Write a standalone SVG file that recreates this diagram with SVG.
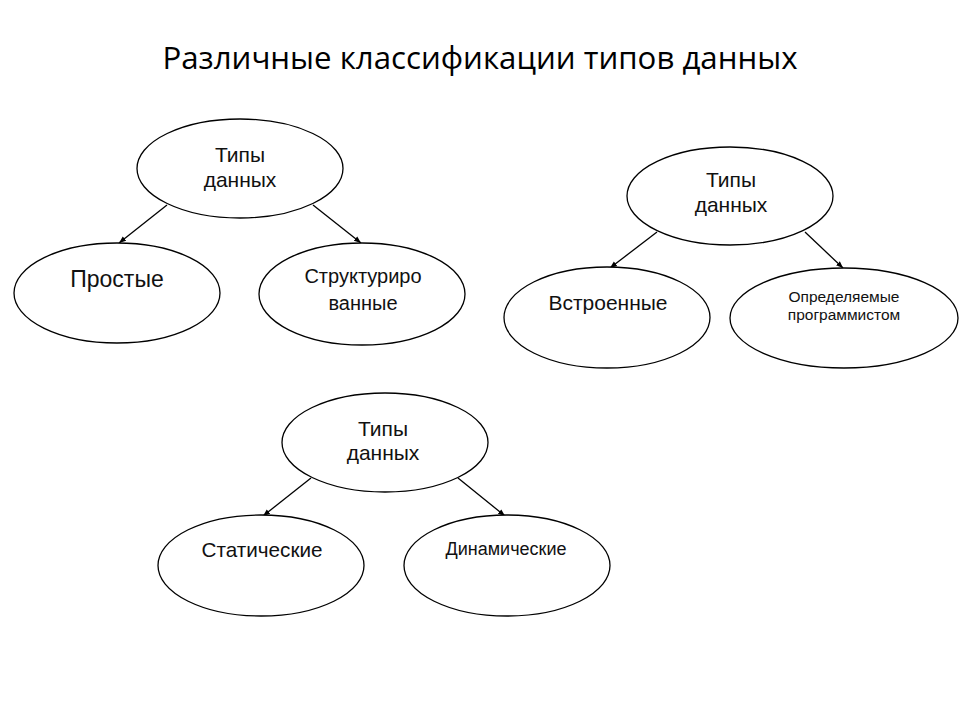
<svg xmlns="http://www.w3.org/2000/svg" width="960" height="720" viewBox="0 0 960 720">
<defs>
<style>
.node ellipse{fill:#fff;stroke:#000;stroke-width:1.3}
.t{font-family:"Liberation Sans",Arial,sans-serif;fill:#111;text-anchor:middle}
.title{font-family:"Open Sans","Liberation Sans",sans-serif;font-size:31px;fill:#000;text-anchor:middle}
.conn line{stroke:#000;stroke-width:1.3;marker-end:url(#ah)}
</style>
<marker id="ah" viewBox="0 0 10 10" refX="10" refY="5" markerWidth="7" markerHeight="7" orient="auto" markerUnits="userSpaceOnUse">
<path d="M0,1 L10,5 L0,9 Z" fill="#000"/>
</marker>
</defs>
<rect width="960" height="720" fill="#fff"/>
<text class="title" x="480" y="69" textLength="635" lengthAdjust="spacingAndGlyphs">Различные классификации типов данных</text>

<g id="connectors" class="conn">
<line x1="167" y1="205" x2="119" y2="243"/>
<line x1="313" y1="205" x2="361" y2="243"/>
<line x1="657" y1="232" x2="610" y2="268"/>
<line x1="805" y1="232" x2="843" y2="268"/>
<line x1="311" y1="478" x2="263" y2="516"/>
<line x1="458" y1="478" x2="505" y2="516"/>
</g>

<g id="n1-types" class="node">
<ellipse cx="240" cy="168.5" rx="103" ry="49.5"/>
<text class="t" x="240" y="162" font-size="21">Типы</text>
<text class="t" x="240" y="187" font-size="21">данных</text>
</g>
<g id="n1-simple" class="node">
<ellipse cx="117" cy="293" rx="103" ry="50"/>
<text class="t" x="117" y="287" font-size="23">Простые</text>
</g>
<g id="n1-struct" class="node">
<ellipse cx="362" cy="294" rx="103" ry="51"/>
<text class="t" x="363" y="283" font-size="20">Структуриро</text>
<text class="t" x="363" y="310" font-size="20">ванные</text>
</g>

<g id="n2-types" class="node">
<ellipse cx="730" cy="196" rx="103" ry="49"/>
<text class="t" x="731" y="187" font-size="21">Типы</text>
<text class="t" x="731" y="212" font-size="21">данных</text>
</g>
<g id="n2-builtin" class="node">
<ellipse cx="607" cy="317.5" rx="103" ry="50.5"/>
<text class="t" x="608" y="310" font-size="21">Встроенные</text>
</g>
<g id="n2-user" class="node">
<ellipse cx="844" cy="318" rx="114" ry="50"/>
<text class="t" x="844" y="302" font-size="15.5">Определяемые</text>
<text class="t" x="844" y="320" font-size="15.5">программистом</text>
</g>

<g id="n3-types" class="node">
<ellipse cx="385" cy="442.5" rx="103" ry="49.5"/>
<text class="t" x="383" y="436" font-size="21">Типы</text>
<text class="t" x="383" y="460" font-size="21">данных</text>
</g>
<g id="n3-static" class="node">
<ellipse cx="261" cy="565.5" rx="103" ry="50.5"/>
<text class="t" x="262" y="557" font-size="20.7">Статические</text>
</g>
<g id="n3-dynamic" class="node">
<ellipse cx="507" cy="565.5" rx="103" ry="50.5"/>
<text class="t" x="506" y="555" font-size="18">Динамические</text>
</g>
</svg>
